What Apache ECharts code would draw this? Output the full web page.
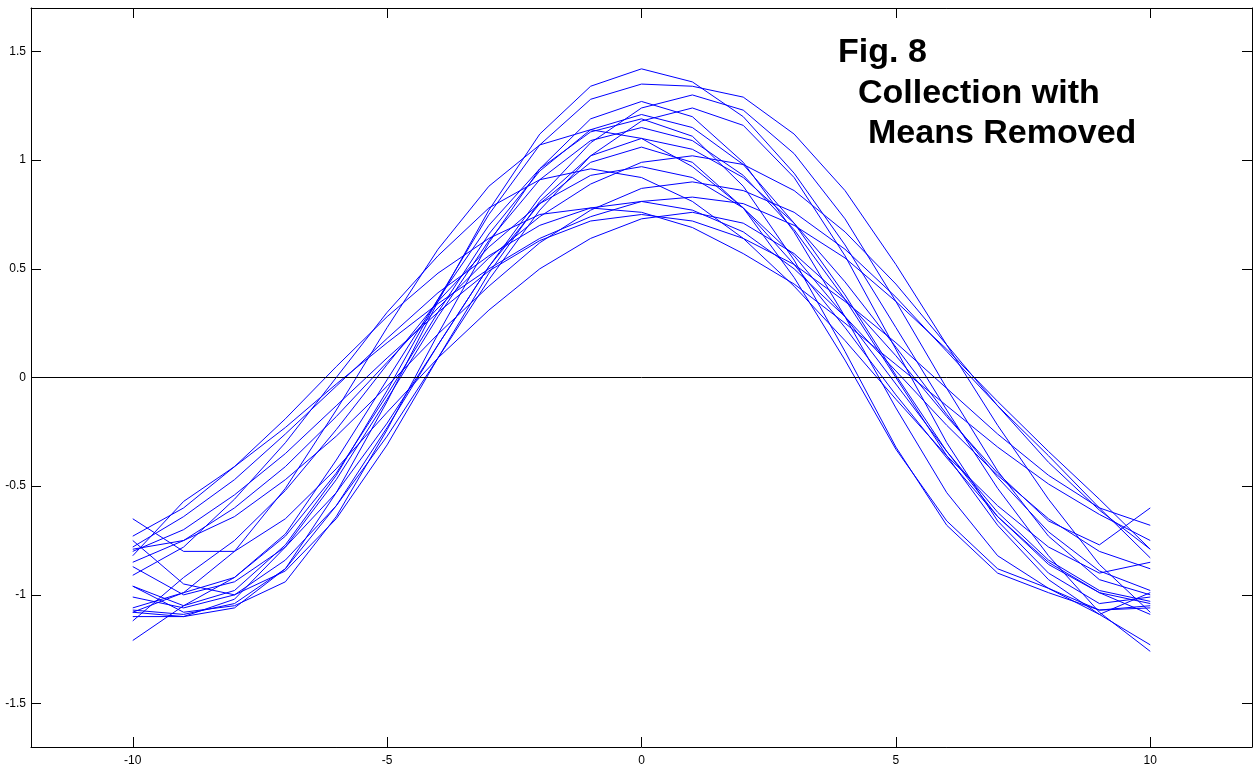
<!DOCTYPE html>
<html><head><meta charset="utf-8">
<script src="https://cdn.jsdelivr.net/npm/echarts@6/dist/echarts.min.js"></script>
<style>html,body{margin:0;padding:0;background:#fff}#chart{width:1257px;height:771px}</style>
</head><body><div id="chart"></div>
<script>
const xValues = [-10,-9,-8,-7,-6,-5,-4,-3,-2,-1,0,1,2,3,4,5,6,7,8,9,10];
const xTickLabels = [-10,-5,0,5,10];
const yTickLabels = [-1.5,-1,-0.5,0,0.5,1,1.5];
const titleLines = ['Fig. 8','Collection with','Means Removed'];

const s1  = [-1.10,-1.10,-1.06,-0.88,-0.53,-0.11,0.35,0.77,1.12,1.34,1.42,1.36,1.20,0.94,0.61,0.23,-0.15,-0.51,-0.82,-1.08,-1.26];
const s2  = [-0.96,-1.05,-0.98,-0.77,-0.45,-0.06,0.36,0.75,1.07,1.28,1.35,1.34,1.29,1.12,0.86,0.52,0.15,-0.22,-0.56,-0.86,-1.08];
const s3  = [-0.87,-1.00,-0.94,-0.78,-0.53,-0.21,0.15,0.51,0.83,1.08,1.24,1.30,1.23,1.03,0.73,0.35,-0.05,-0.43,-0.73,-0.93,-1.00];
const s4  = [-0.96,-1.08,-1.05,-0.94,-0.64,-0.24,0.20,0.62,0.96,1.19,1.27,1.20,0.99,0.67,0.28,-0.14,-0.53,-0.82,-0.97,-1.07,-1.06];
const s5  = [-1.01,-1.06,-1.00,-0.84,-0.59,-0.27,0.09,0.45,0.77,1.02,1.18,1.24,1.16,0.92,0.56,0.13,-0.30,-0.66,-0.90,-1.04,-1.01];
const s6  = [-1.08,-0.99,-0.92,-0.73,-0.44,-0.08,0.30,0.66,0.95,1.14,1.21,1.15,0.98,0.71,0.38,0.01,-0.34,-0.64,-0.86,-0.99,-1.09];
const s7  = [-1.21,-1.05,-0.92,-0.72,-0.38,-0.01,0.36,0.70,0.96,1.13,1.19,1.11,0.88,0.54,0.12,-0.32,-0.68,-0.90,-0.99,-1.07,-1.05];
const s8  = [-1.08,-1.10,-1.02,-0.78,-0.47,-0.10,0.28,0.63,0.91,1.09,1.15,1.09,0.93,0.68,0.36,0.00,-0.36,-0.68,-0.93,-1.09,-1.23];
const s9  = [-1.06,-0.99,-0.80,-0.51,-0.15,0.23,0.59,0.88,1.07,1.14,1.10,0.97,0.78,0.52,0.23,-0.08,-0.37,-0.64,-0.85,-0.99,-1.04];
const s10 = [-0.75,-0.95,-1.00,-0.89,-0.65,-0.31,0.09,0.48,0.81,1.02,1.10,1.05,0.92,0.71,0.44,0.14,-0.17,-0.46,-0.71,-0.89,-0.98];
const s11 = [-1.07,-1.09,-1.04,-0.88,-0.59,-0.23,0.15,0.51,0.80,0.99,1.06,0.99,0.78,0.46,0.08,-0.33,-0.66,-0.88,-0.97,-1.09,-0.99];
const s12 = [-0.85,-0.75,-0.60,-0.41,-0.18,0.07,0.32,0.55,0.74,0.89,0.99,1.02,0.98,0.86,0.67,0.43,0.15,-0.13,-0.39,-0.61,-0.79];
const s13 = [-1.12,-0.92,-0.75,-0.52,-0.24,0.06,0.35,0.60,0.80,0.93,0.97,0.92,0.78,0.56,0.28,-0.03,-0.34,-0.62,-0.84,-0.98,-1.03];
const s14 = [-0.91,-0.78,-0.56,-0.30,0.00,0.30,0.56,0.78,0.91,0.96,0.92,0.81,0.64,0.42,0.17,-0.10,-0.36,-0.59,-0.78,-0.90,-0.85];
const s15 = [-0.79,-0.75,-0.64,-0.47,-0.27,-0.04,0.20,0.42,0.62,0.77,0.87,0.90,0.86,0.76,0.59,0.37,0.12,-0.13,-0.36,-0.60,-0.83];
const s16 = [-0.82,-0.57,-0.41,-0.23,-0.03,0.16,0.34,0.50,0.64,0.74,0.81,0.83,0.80,0.70,0.55,0.35,0.13,-0.11,-0.34,-0.56,-0.79];
const s17 = [-0.78,-0.64,-0.47,-0.26,-0.04,0.18,0.39,0.56,0.70,0.78,0.81,0.77,0.67,0.50,0.28,0.03,-0.22,-0.45,-0.65,-0.80,-0.88];
const s18 = [-0.73,-0.60,-0.41,-0.19,0.05,0.28,0.48,0.64,0.75,0.78,0.76,0.69,0.57,0.43,0.25,0.06,-0.13,-0.32,-0.49,-0.63,-0.75];
const s19 = [-0.65,-0.80,-0.80,-0.65,-0.42,-0.16,0.09,0.31,0.50,0.64,0.73,0.76,0.71,0.57,0.36,0.10,-0.18,-0.44,-0.66,-0.77,-0.60];
const s20 = [-0.80,-0.70,-0.54,-0.35,-0.13,0.09,0.30,0.49,0.63,0.72,0.75,0.72,0.64,0.52,0.35,0.16,-0.05,-0.26,-0.45,-0.60,-0.68];

const allSeries = [s1,s2,s3,s4,s5,s6,s7,s8,s9,s10,s11,s12,s13,s14,s15,s16,s17,s18,s19,s20];

const chart = echarts.init(document.getElementById('chart'), null, {renderer: 'canvas'});
const FONT = '"Liberation Sans", Arial, sans-serif';
const axisLineStyle = {show: true, onZero: false, lineStyle: {color: '#000', width: 1}};

function xAxisDef(pos, showLabel) {
  return {
    type: 'value', position: pos, min: -12, max: 12,
    axisLine: axisLineStyle,
    axisTick: {show: true, inside: true, length: 10, customValues: xTickLabels, lineStyle: {color: '#000'}},
    axisLabel: {show: showLabel, customValues: xTickLabels, color: '#000', fontSize: 12, fontFamily: FONT, margin: 8},
    splitLine: {show: false}
  };
}
function yAxisDef(pos, showLabel) {
  return {
    type: 'value', position: pos, min: -1.7, max: 1.7,
    axisLine: axisLineStyle,
    axisTick: {show: true, inside: true, length: 10, customValues: yTickLabels, lineStyle: {color: '#000'}},
    axisLabel: {show: showLabel, customValues: yTickLabels, color: '#000', fontSize: 12, fontFamily: FONT, margin: 5},
    splitLine: {show: false}
  };
}

const series = allSeries.map((arr, idx) => {
  const s = {
    type: 'line',
    xAxisIndex: 0, yAxisIndex: 0,
    data: xValues.map((x, i) => [x, arr[i]]),
    symbol: 'none', showSymbol: false,
    lineStyle: {color: '#0000ff', width: 1},
    silent: true,
    z: 2
  };
  if (idx === 0) {
    s.markLine = {
      silent: true, symbol: ['none', 'none'], label: {show: false},
      lineStyle: {color: '#000', width: 1, type: 'solid'},
      data: [{yAxis: 0}]
    };
  }
  return s;
});

const titleLeft = [838, 858, 868];
const titleTop = [36, 77, 117];

chart.setOption({
  animation: false,
  backgroundColor: '#fff',
  grid: {left: 31, right: 5, top: 8, bottom: 24, containLabel: false},
  xAxis: [xAxisDef('bottom', true), xAxisDef('top', false)],
  yAxis: [yAxisDef('left', true), yAxisDef('right', false)],
  series: series,
  graphic: titleLines.map((t, i) => ({
    type: 'text', left: titleLeft[i], top: titleTop[i], z: 10,
    style: {text: t, font: 'bold 34px ' + FONT, fill: '#000'}
  }))
});
</script>
</body></html>
